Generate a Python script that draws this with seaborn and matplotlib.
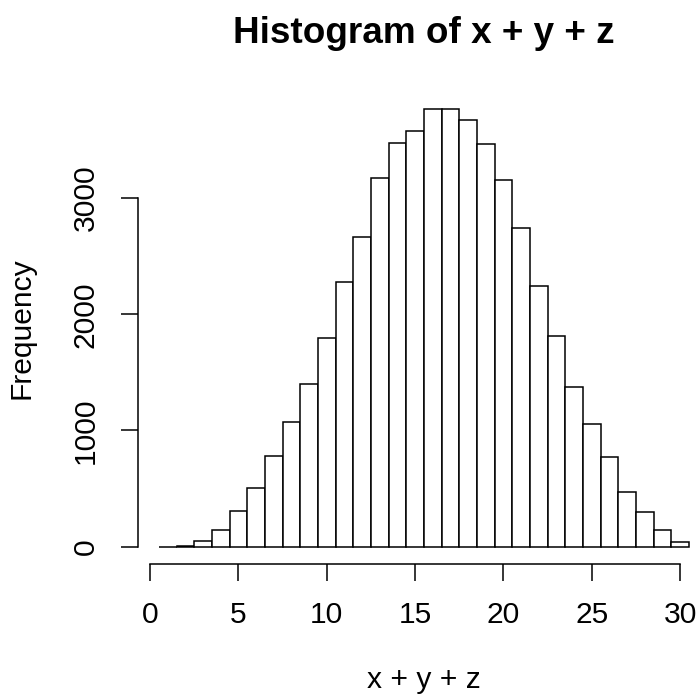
from matplotlib import pyplot as plt
import pandas as pd
import numpy as np
import seaborn as sns

sns.set_style("white")
plt.rcParams['font.family'] = ['Liberation Sans', 'DejaVu Sans']
plt.rcParams['text.color'] = 'black'
plt.rcParams['axes.labelcolor'] = 'black'

# bin centres (integers 1..30) and frequencies
centers = list(range(1, 31))
counts = [0, 2, 45, 143, 307, 507, 780, 1075, 1396, 1792,
          2276, 2666, 3173, 3474, 3580, 3766, 3766, 3677, 3468, 3156,
          2746, 2244, 1812, 1371, 1052, 774, 468, 296, 143, 43]
x_ticks = [0, 5, 10, 15, 20, 25, 30]
y_ticks = [0, 1000, 2000, 3000]

data = pd.DataFrame({'value': centers, 'freq': counts})

fig = plt.figure(figsize=(6.99, 6.95), dpi=100)
ax = fig.add_axes([0.1969, 0.1881, 0.819, 0.680])

sns.histplot(
    data=data,
    x='value',
    weights='freq',
    discrete=True,
    color='white',
    edgecolor='black',
    linewidth=1.1,
    alpha=1,
    ax=ax
)

ax.set_xlim(-0.7, 31.7)
ax.set_ylim(-151.5, 3916.6)

for s in ['top', 'right']:
    ax.spines[s].set_visible(False)
ax.spines['left'].set_bounds(0, 3000)
ax.spines['bottom'].set_bounds(0, 30)
for s in ['left', 'bottom']:
    ax.spines[s].set_linewidth(1.1)
    ax.spines[s].set_color('black')

ax.set_xticks(x_ticks)
ax.set_yticks(y_ticks)
ax.set_yticklabels([str(v) for v in y_ticks], rotation=90, va='center')
ax.tick_params(axis='both', direction='out', length=12, width=1.1,
               color='black', labelsize=21.6, labelcolor='black',
               left=True, bottom=True)
ax.tick_params(axis='x', pad=14.5)
ax.tick_params(axis='y', pad=15.5)

ax.set_xlabel("x + y + z", fontsize=21.6, color='black')
ax.set_ylabel("Frequency", fontsize=21.6, color='black')
ax.xaxis.set_label_coords(0.5, -0.2448)
ax.xaxis.label.set_va('center')
ax.yaxis.set_label_coords(-0.2024, 0.5)
ax.yaxis.label.set_va('center')

ax.set_title("Histogram of x + y + z", fontsize=26.6, fontweight='bold',
             color='black', y=1.124, va='center', pad=0)

plt.savefig("out.png", dpi=100)
